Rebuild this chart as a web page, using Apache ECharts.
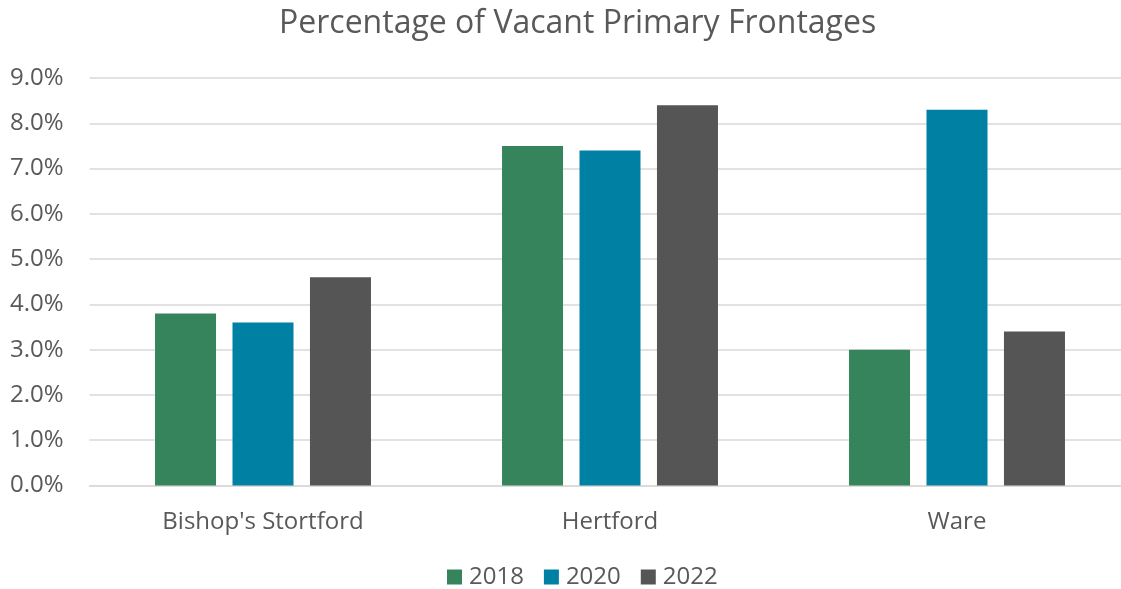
<!DOCTYPE html>
<html>
<head>
<meta charset="utf-8">
<script src="https://cdn.jsdelivr.net/npm/echarts@6/dist/echarts.min.js"></script>
<style>
  html, body { margin: 0; padding: 0; background: #fff; }
  #chart { width: 1121px; height: 589px; }
</style>
</head>
<body>
<div id="chart"></div>
<script>
// Town centres and survey years
const towns = ["Bishop's Stortford", "Hertford", "Ware"];
const years = ['2018', '2020', '2022'];

// Vacant primary frontage, percent
const vacant2018 = [3.8, 7.5, 3.0];
const vacant2020 = [3.6, 7.4, 8.3];
const vacant2022 = [4.6, 8.4, 3.4];

const yTicks = { min: 0, max: 9, interval: 1 };

const colors = ['#36845b', '#0080a3', '#555555'];
const textColor = '#595959';
const font = '"Open Sans", "Noto Sans", sans-serif';

const seriesData = [vacant2018, vacant2020, vacant2022];

const chart = echarts.init(document.getElementById('chart'), null, { renderer: 'canvas' });
chart.setOption({
  animation: false,
  color: colors,
  title: {
    text: 'Percentage of Vacant Primary Frontages',
    left: 279,
    top: 8,
    padding: 0,
    textStyle: { fontFamily: font, fontSize: 32, fontWeight: 'normal', color: textColor }
  },
  legend: {
    data: years,
    top: 560,
    left: 442,
    itemWidth: 15,
    itemHeight: 15,
    itemGap: 20,
    icon: 'rect',
    textStyle: { fontFamily: font, fontSize: 24, color: textColor, padding: [0, 0, 0, 2] }
  },
  grid: {
    left: 89.5, top: 78, width: 1041, height: 407.5,
    containLabel: false, outerBoundsMode: 'none'
  },
  xAxis: {
    type: 'category',
    data: towns,
    axisLine: { show: true, lineStyle: { color: '#d9d9d9', width: 1.5 } },
    axisTick: { show: false },
    axisLabel: { fontFamily: font, fontSize: 24, color: textColor, margin: 25 }
  },
  yAxis: {
    type: 'value',
    min: yTicks.min,
    max: yTicks.max,
    interval: yTicks.interval,
    axisLine: { show: false },
    axisTick: { show: false },
    splitLine: { lineStyle: { color: '#d9d9d9', width: 1.5 } },
    axisLabel: {
      fontFamily: font, fontSize: 24, color: textColor, margin: 26,
      formatter: v => v.toFixed(1) + '%'
    }
  },
  series: years.map((y, i) => ({
    name: y,
    type: 'bar',
    data: seriesData[i],
    barWidth: 61,
    barGap: '27%'
  }))
});
</script>
</body>
</html>
